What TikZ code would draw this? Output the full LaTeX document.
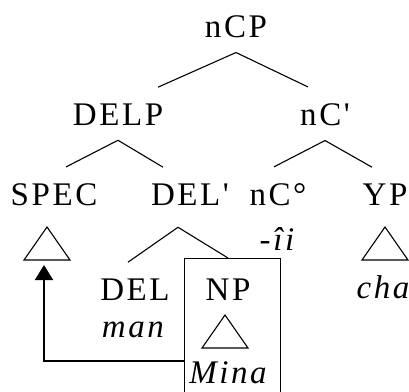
\documentclass[tikz,border=0pt]{standalone}
\usepackage{fontspec}
\newfontfamily\treefont{Liberation Serif}
\usetikzlibrary{arrows.meta}

% letter-spaced words, as in the printed tree
\def\lsgap{2.6pt}
\def\lsword#1{\lsfirst#1\relax}
\def\lsfirst#1{#1\lsrest}
\def\lsrest#1{\ifx#1\relax\else\kern\lsgap#1\expandafter\lsrest\fi}

\begin{document}
\begin{tikzpicture}[
    x=1pt, y=-1pt,
    lab/.style={anchor=base, inner xsep=0pt, inner ysep=15pt, font=\fontsize{33}{38}\selectfont\treefont},
    gloss/.style={anchor=base, inner sep=0pt, font=\fontsize{33}{38}\selectfont\treefont\itshape},
    branch/.style={line width=1.1pt},
    roof/.pic={\draw[line width=1.1pt] (0,0) -- (-23,33) -- (23,33) -- cycle; \coordinate (-base) at (0,33);},
    move/.style={-{Triangle[length=15pt,width=18pt]}, line width=1.8pt, shorten >=5pt},
]
\useasboundingbox (0,0) rectangle (409,391);

% Labels of the tree
\node[lab] (ncp) at (236,37) {\lsword{nCP}};
\node[lab] (delp) at (118,125) {\lsword{DELP}};
\node[lab] (ncbar) at (325,125) {\lsword{nC\textquotesingle}};
\node[lab] (spec) at (54,205) {\lsword{SPEC}};
\node[lab] (delbar) at (190,205) {\lsword{DEL\textquotesingle}};
\node[lab] (nchead) at (278,205) {\lsword{nC°}};
\node[lab] (yp) at (385,205) {\lsword{YP}};
\node[lab] (del) at (135,300) {\lsword{DEL}};
\node[lab] (np) at (228,300) {\lsword{NP}};

% Lexical items
\node[gloss] (ii) at (277,250) {\lsword{-îi}};
\node[gloss] (man) at (133,337) {\lsword{man}};
\node[gloss] (mina) at (228,383) {\lsword{Mina}};
\node[gloss] (cha) at (383,298) {\lsword{cha}};

% Roofs
\pic (spectri) at (47,227) {roof};
\pic (yptri) at (385,227) {roof};
\pic (nptri) at (225,315) {roof};

% Box round the moved NP
\node[draw, line width=1.1pt, anchor=north west, minimum width=96pt, minimum height=150pt, inner sep=0pt] (npbox) at (184,258) {};

% Branches
\draw[branch] (ncp.south) -- ([xshift=40pt,yshift=1pt]delp.north);
\draw[branch] (ncp.south) -- ([xshift=-17pt,yshift=1pt]ncbar.north);
\draw[branch] (delp.south) -- ([xshift=12pt,yshift=1pt]spec.north);
\draw[branch] (delp.south) -- ([xshift=-27pt,yshift=1pt]delbar.north);
\draw[branch] (ncbar.south) -- ([xshift=-4pt,yshift=1pt]nchead.north);
\draw[branch] (ncbar.south) -- ([xshift=-13pt,yshift=1pt]yp.north);
\draw[branch] ([xshift=-12pt,yshift=-7pt]delbar.south) -- ([xshift=-7pt,yshift=1pt]del.north);
\draw[branch] ([xshift=-12pt,yshift=-7pt]delbar.south) -- (np.north |- npbox.north);

% Movement
\draw[move] (npbox.west |- mina.north) -| ([xshift=-3pt]spectri-base);

\end{tikzpicture}
\end{document}
